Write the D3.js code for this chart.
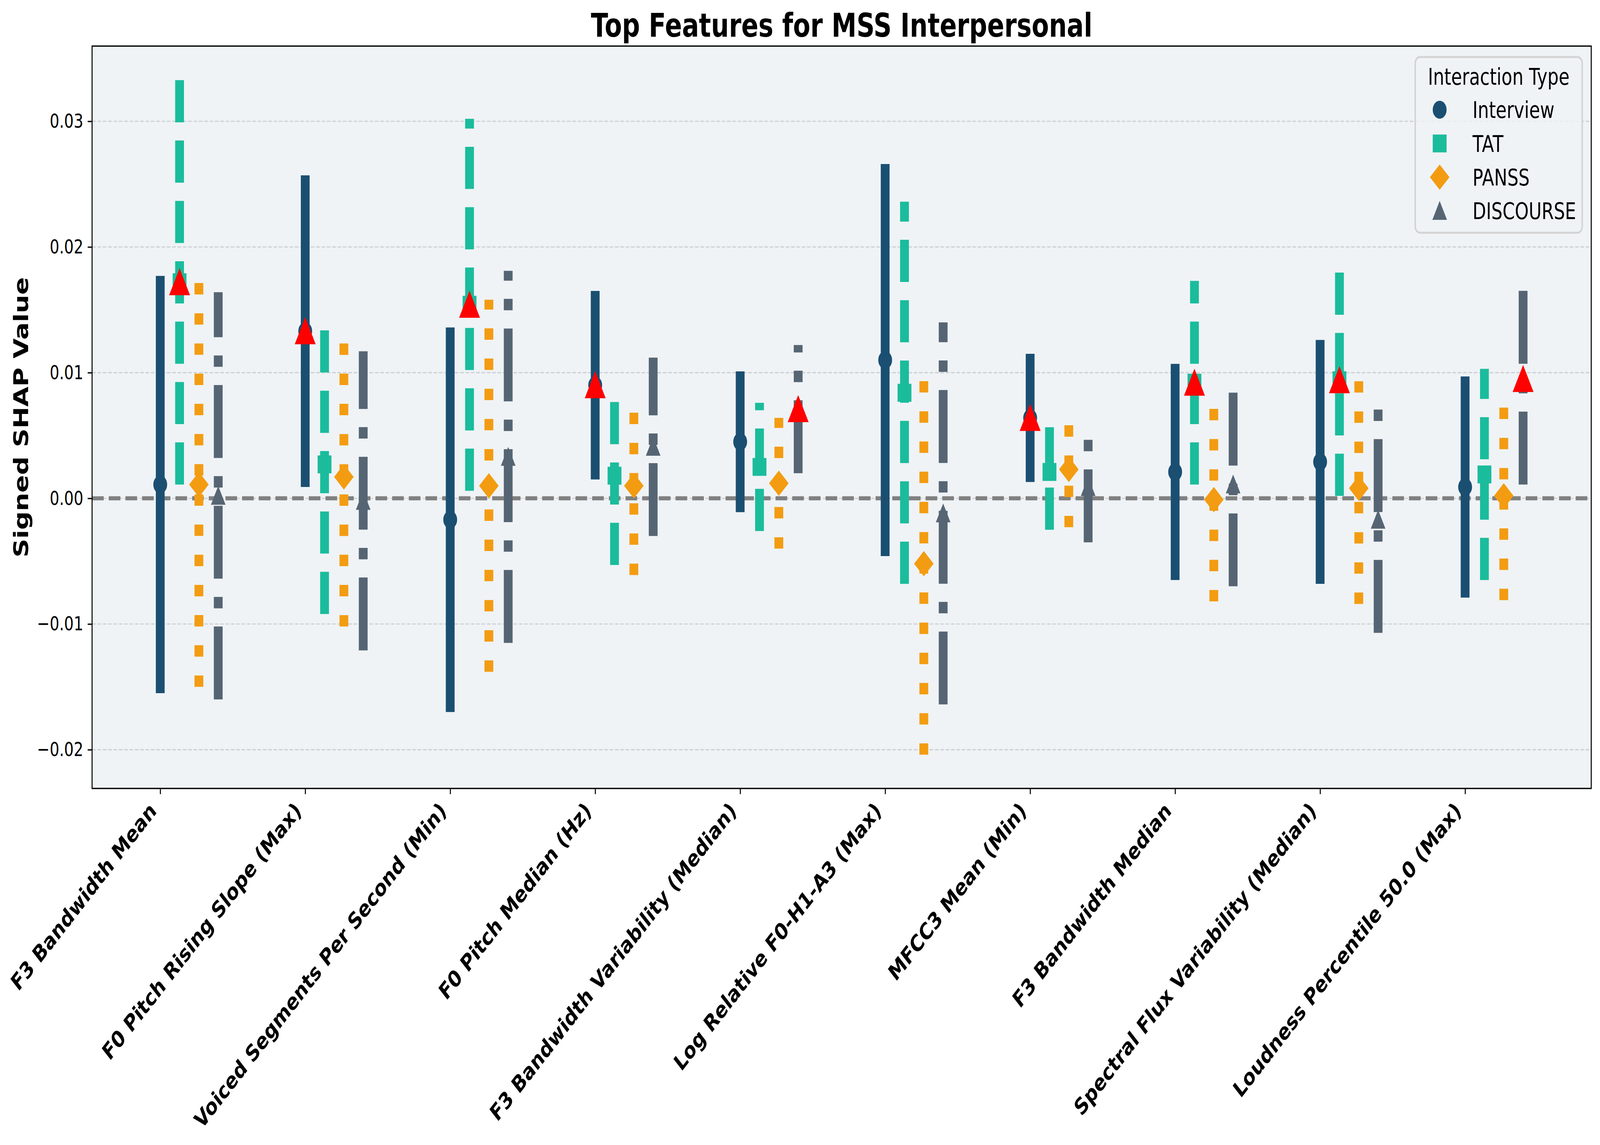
<!DOCTYPE html>
<html><head><meta charset="utf-8">
<script src="https://cdn.jsdelivr.net/npm/d3@7"></script>
<style>
html,body{margin:0;padding:0;background:#ffffff;overflow:hidden;width:100%;height:100%;}
svg{display:block;font-family:"DejaVu Sans",sans-serif;width:100vw;height:100vh;}
</style>
</head><body>
<svg id="chart" viewBox="0 0 5299 2932" preserveAspectRatio="none"></svg>
<script>
// ---------------- DATA ----------------
const categories = [
  "F3 Bandwidth Mean",
  "F0 Pitch Rising Slope (Max)",
  "Voiced Segments Per Second (Min)",
  "F0 Pitch Median (Hz)",
  "F3 Bandwidth Variability (Median)",
  "Log Relative F0-H1-A3 (Max)",
  "MFCC3 Mean (Min)",
  "F3 Bandwidth Median",
  "Spectral Flux Variability (Median)",
  "Loudness Percentile 50.0 (Max)"
];
const seriesNames = ["Interview", "TAT", "PANSS", "DISCOURSE"];

const interviewMean = [0.0011, 0.0133, -0.0017, 0.0090, 0.0045, 0.0110, 0.0064, 0.0021, 0.0029, 0.0009];
const interviewErr  = [0.0166, 0.0124, 0.0153, 0.0075, 0.0056, 0.0156, 0.0051, 0.0086, 0.0097, 0.0088];

const tatMean = [0.0172, 0.0027, 0.0154, 0.0018, 0.0025, 0.0084, 0.0021, 0.0092, 0.0094, 0.0019];
const tatErr  = [0.0161, 0.0119, 0.0148, 0.0071, 0.0051, 0.0152, 0.0046, 0.0081, 0.0092, 0.0084];

const panssMean = [0.0011, 0.0017, 0.0010, 0.0010, 0.0012, -0.0052, 0.0023, -0.0001, 0.0008, 0.0002];
const panssErr  = [0.0161, 0.0119, 0.0148, 0.0071, 0.0052, 0.0152, 0.0046, 0.0081, 0.0092, 0.0083];

const discourseMean = [0.0002, -0.0002, 0.0033, 0.0041, 0.0071, -0.0012, 0.0009, 0.0011, -0.0017, 0.0095];
const discourseErr  = [0.0162, 0.0119, 0.0148, 0.0071, 0.0051, 0.0152, 0.0044, 0.0081, 0.0090, 0.0084];

// group whose mean is highlighted with a red triangle (null = none)
const highlightGroup = ["TAT", "Interview", "TAT", "Interview", "DISCOURSE", null, "Interview", "TAT", "TAT", "DISCOURSE"];

const yTicks = [-0.02, -0.01, 0.00, 0.01, 0.02, 0.03];

const titleText = "Top Features for MSS Interpersonal";
const yLabelText = "Signed SHAP Value";
const legendTitle = "Interaction Type";

// ---------------- STYLE / LAYOUT ----------------
const PT = 300 / 72;
const W = 5299, H = 2932;
const M = {left: 305, right: 5270, top: 118, bottom: 2019};
const seriesColors = ["#1b4f72", "#1abc9c", "#f39c12", "#566573"];
const seriesShapes = ["circle", "square", "diamond", "triangle"];
const seriesDash = [null, [3.7, 1.6], [1, 1.65], [6.4, 1.6, 1, 1.6]];
const groupStep = 0.4 / 3;
const LW = 7 * PT;
const MS = 10 * PT;
const MEW = 1 * PT;
const HS = 15 * PT;
const bg = "#eff3f6";

const means = [interviewMean, tatMean, panssMean, discourseMean];
const errs = [interviewErr, tatErr, panssErr, discourseErr];

const rows = [];
seriesNames.forEach((s, j) => {
  categories.forEach((c, i) => {
    rows.push({series: s, j, i, cat: c, mean: means[j][i], err: errs[j][i],
               lo: means[j][i] - errs[j][i], hi: means[j][i] + errs[j][i]});
  });
});

// scales (matplotlib-like 5% margins)
const xMin = 0, xMax = categories.length - 1 + groupStep * (seriesNames.length - 1);
const xPad = (xMax - xMin) * 0.05;
const x = d3.scaleLinear().domain([xMin - xPad, xMax + xPad]).range([M.left, M.right]);
const yLo = d3.min(rows, d => d.lo), yHi = d3.max(rows, d => d.hi);
const yPad = (yHi - yLo) * 0.05;
const y = d3.scaleLinear().domain([yLo - yPad, yHi + yPad]).range([M.bottom, M.top]);

const svg = d3.select("#chart");
svg.append("rect").attr("width", W).attr("height", H).attr("fill", "#ffffff");

// axes background
svg.append("rect").attr("x", M.left).attr("y", M.top)
  .attr("width", M.right - M.left).attr("height", M.bottom - M.top).attr("fill", bg);

const plot = svg.append("g");
// grid
plot.append("g").selectAll("line").data(yTicks).join("line")
  .attr("x1", M.left).attr("x2", M.right)
  .attr("y1", d => y(d)).attr("y2", d => y(d))
  .attr("stroke", "#cfd3d7").attr("stroke-width", 0.8 * PT)
  .attr("stroke-dasharray", [3.7 * 0.8 * PT, 1.6 * 0.8 * PT].join(","));

// zero line
plot.append("line")
  .attr("x1", M.left).attr("x2", M.right).attr("y1", y(0)).attr("y2", y(0))
  .attr("stroke", "#808080").attr("stroke-width", 2.5 * PT)
  .attr("stroke-dasharray", [3.7 * 2.5 * PT, 1.6 * 2.5 * PT].join(","));

// error lines (drawn from bottom to top so dash pattern starts at the low end)
plot.append("g").selectAll("path").data(rows).join("path")
  .attr("d", d => {
    const xx = x(d.i + d.j * groupStep);
    return `M${xx},${y(d.lo)}L${xx},${y(d.hi)}`;
  })
  .attr("fill", "none")
  .attr("stroke", d => seriesColors[d.j])
  .attr("stroke-width", LW)
  .attr("stroke-linecap", "butt")
  .attr("stroke-dasharray", d => seriesDash[d.j] ? seriesDash[d.j].map(v => v * LW).join(",") : null);

function shapePath(shape, s) {
  const h = s / 2;
  if (shape === "circle") return `M${h},0A${h},${h},0,1,1,${-h},0A${h},${h},0,1,1,${h},0Z`;
  if (shape === "square") return `M${-h},${-h}L${h},${-h}L${h},${h}L${-h},${h}Z`;
  if (shape === "diamond") { const r = s / Math.SQRT2; return `M0,${-r}L${r},0L0,${r}L${-r},0Z`; }
  return `M0,${-h}L${h},${h}L${-h},${h}Z`;
}

// mean markers
plot.append("g").selectAll("path").data(rows).join("path")
  .attr("transform", d => `translate(${x(d.i + d.j * groupStep)},${y(d.mean)})`)
  .attr("d", d => shapePath(seriesShapes[d.j], MS))
  .attr("fill", d => seriesColors[d.j])
  .attr("stroke", d => seriesColors[d.j])
  .attr("stroke-width", MEW)
  .attr("stroke-linejoin", "miter");

// highlight red triangles
const hl = rows.filter(d => highlightGroup[d.i] === d.series);
plot.append("g").selectAll("path").data(hl).join("path")
  .attr("transform", d => `translate(${x(d.i + d.j * groupStep)},${y(d.mean)})`)
  .attr("d", shapePath("triangle", HS))
  .attr("fill", "#ff0000").attr("stroke", "#ff0000").attr("stroke-width", MEW)
  .attr("stroke-linejoin", "miter");

// spines
svg.append("rect").attr("x", M.left).attr("y", M.top)
  .attr("width", M.right - M.left).attr("height", M.bottom - M.top)
  .attr("fill", "none").attr("stroke", "#000").attr("stroke-width", 0.8 * PT);

// y axis
const yAxis = d3.axisLeft(y).tickValues(yTicks).tickFormat(d3.format(".2f"))
  .tickSize(3.5 * PT).tickPadding(3.5 * PT);
const gy = svg.append("g").attr("transform", `translate(${M.left},0)`).call(yAxis);
gy.select(".domain").remove();
gy.selectAll(".tick line").attr("stroke", "#000").attr("stroke-width", 0.8 * PT);
gy.selectAll(".tick text").attr("font-size", 12 * PT).attr("fill", "#000")
  .attr("font-family", "DejaVu Sans");

// x axis
const xAxis = d3.axisBottom(x).tickValues(categories.map((c, i) => i))
  .tickFormat(i => categories[i]).tickSize(3.5 * PT).tickPadding(3.5 * PT);
const gx = svg.append("g").attr("transform", `translate(0,${M.bottom})`).call(xAxis);
gx.select(".domain").remove();
gx.selectAll(".tick line").attr("stroke", "#000").attr("stroke-width", 0.8 * PT);
const xfs = 14 * PT;
const asc = 0.76 * xfs, desc = 0.236 * xfs;
const topY = 3.5 * PT + 3.5 * PT;
gx.selectAll(".tick text")
  .attr("font-size", xfs).attr("font-weight", "bold").attr("fill", "#000")
  .attr("font-family", "DejaVu Sans")
  .attr("text-anchor", "end").attr("dy", null).attr("y", null)
  .attr("transform", `translate(${-desc * Math.SQRT1_2},${topY + asc * Math.SQRT1_2}) rotate(-45)`);

// title
svg.append("text").attr("x", (M.left + M.right) / 2).attr("y", 94)
  .attr("text-anchor", "middle").attr("font-size", 20 * PT).attr("font-weight", "bold")
  .attr("fill", "#000").text(titleText);

// y label
svg.append("text").attr("transform", `translate(93,${(M.top + M.bottom) / 2}) rotate(-90)`)
  .attr("text-anchor", "middle").attr("font-size", 16 * PT).attr("font-weight", "bold")
  .attr("fill", "#000").text(yLabelText);

// legend
const lg = svg.append("g");
const LB = {x0: 4687, x1: 5240, y0: 146, y1: 596};
lg.append("rect").attr("x", LB.x0).attr("y", LB.y0)
  .attr("width", LB.x1 - LB.x0).attr("height", LB.y1 - LB.y0)
  .attr("rx", 16).attr("ry", 16)
  .attr("fill", bg).attr("fill-opacity", 0.8)
  .attr("stroke", "#d3d3d3").attr("stroke-width", 5);
lg.append("text").attr("x", (LB.x0 + LB.x1) / 2).attr("y", 217)
  .attr("text-anchor", "middle").attr("font-size", 14 * PT).attr("fill", "#000").text(legendTitle);
const legRowY = d3.scaleLinear().domain([0, seriesNames.length - 1]).range([281, 540]);
const li = lg.selectAll("g.item").data(seriesNames).join("g").attr("class", "item")
  .attr("transform", (d, j) => `translate(0,${legRowY(j)})`);
li.append("path").attr("transform", "translate(4768,0)")
  .attr("d", (d, j) => shapePath(seriesShapes[j], MS))
  .attr("fill", (d, j) => seriesColors[j]).attr("stroke", (d, j) => seriesColors[j])
  .attr("stroke-width", MEW);
li.append("text").attr("x", 4877).attr("y", 0.365 * 14 * PT)
  .attr("font-size", 14 * PT).attr("fill", "#000").text(d => d);
</script>
</body></html>
